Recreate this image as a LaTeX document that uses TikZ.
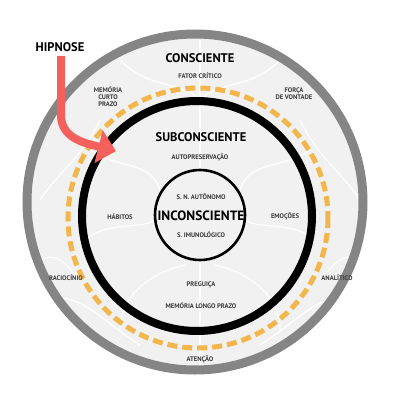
\documentclass[tikz,border=0pt]{standalone}
\usepackage{fontspec}
\setmainfont{PT Sans}
\usetikzlibrary{arrows.meta}
\definecolor{ringgray}{HTML}{858585}
\definecolor{brain}{HTML}{F1F1F1}
\definecolor{dashgold}{HTML}{F2B64C}
\definecolor{hipred}{HTML}{F4605C}
\definecolor{labelgray}{HTML}{3A3A3A}
\begin{document}
\begin{tikzpicture}[x=1pt,y=-1pt,
    level/.style={font=\bfseries\fontsize{12.5}{13}\selectfont, inner sep=1pt},
    part/.style={font=\bfseries\fontsize{6.6}{7}\selectfont, text=labelgray, align=center, inner sep=1pt},
    fold/.style={white, line width=1.2}]
  \useasboundingbox (0,0) rectangle (400,400);
  \fill[brain] (195,202) circle (164);
  \begin{scope}
    \clip (195,202) circle (164);
    \draw[fold] (200,40) -- (200,172);
    \draw[fold] (200,260) -- (200,372);
    \draw[fold] (120,60) .. controls (150,90) and (180,80) .. (200,100);
    \draw[fold] (280,60) .. controls (250,90) and (220,80) .. (200,100);
    \draw[fold] (90,150) .. controls (120,170) and (150,160) .. (160,190);
    \draw[fold] (310,150) .. controls (280,170) and (250,160) .. (240,190);
    \draw[fold] (85,240) .. controls (110,220) and (140,230) .. (155,220);
    \draw[fold] (315,240) .. controls (290,220) and (260,230) .. (245,220);
    \draw[fold] (120,330) .. controls (120,290) and (160,270) .. (185,265);
    \draw[fold] (280,330) .. controls (280,290) and (240,270) .. (215,265);
    \draw[fold] (40,200) .. controls (60,170) and (80,160) .. (100,120);
    \draw[fold] (360,200) .. controls (340,170) and (320,160) .. (300,120);
    \draw[fold] (45,300) .. controls (80,290) and (100,320) .. (140,345);
    \draw[fold] (355,300) .. controls (320,290) and (300,320) .. (260,345);
    \draw[fold] (40,260) .. controls (60,250) and (70,270) .. (80,280);
    \draw[fold] (360,260) .. controls (340,250) and (330,270) .. (320,280);
  \end{scope}
  \draw[ringgray, line width=9] (195,202) circle (168);
  \draw[dashgold, line width=5, dash pattern=on 10 off 5] (198,218) circle (130);
  \draw[black, line width=8] (197,216) circle (115);
  \draw[black, line width=2.6] (200,215) circle (45);

  \node[level] (consciente) at (200,58) {CONSCIENTE};
  \node[level] (subconsciente) at (201,137) {SUBCONSCIENTE};
  \node[level, font=\bfseries\fontsize{13.5}{14}\selectfont] (inconsciente) at (201,216) {INCONSCIENTE};
  \node[level] (hipnose) at (60,47) {HIPNOSE};

  \node[part] (fator) at (200,76) {FATOR CRÍTICO};
  \node[part] (curto) at (108,97) {MEMÓRIA\\CURTO\\PRAZO};
  \node[part] (vontade) at (294,94) {FORÇA\\DE VONTADE};
  \node[part] (autopreservacao) at (200,157) {AUTOPRESERVAÇÃO};
  \node[part] (autonomo) at (201,197) {S. N. AUTÔNOMO};
  \node[part] (imunologico) at (201,235) {S. IMUNOLÓGICO};
  \node[part] (habitos) at (120,217) {HÁBITOS};
  \node[part] (emocoes) at (285,216) {EMOÇÕES};
  \node[part] (raciocinio) at (66,278) {RACIOCÍNIO};
  \node[part] (analitico) at (337,278) {ANALÍTICO};
  \node[part] (preguica) at (201,285) {PREGUIÇA};
  \node[part] (longo) at (201,306) {MEMÓRIA LONGO PRAZO};
  \node[part] (atencao) at (200,359) {ATENÇÃO};

  \coordinate (ponta) at (116,151);
  \draw[hipred, line width=8, -{Triangle[length=18pt, width=33pt]}]
    (hipnose.south) ++(1,3) -- (61,115) .. controls (61,138) and (84,143) .. (ponta);
\end{tikzpicture}
\end{document}
